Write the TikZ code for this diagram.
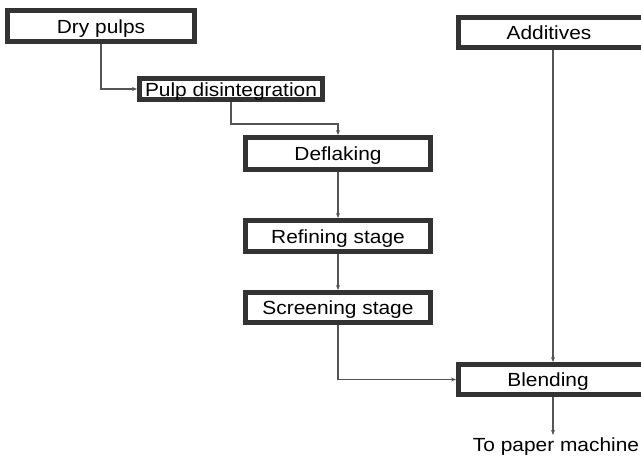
\documentclass[tikz,border=0pt]{standalone}
\usepackage{fontspec}
\setmainfont{Liberation Sans}[FakeStretch=1.1]
\usepackage{xcolor}
\usepackage{tikz}
\usetikzlibrary{arrows.meta,calc}
\definecolor{boxgray}{HTML}{333333}
\definecolor{linegray}{HTML}{555555}

\begin{document}
\begin{tikzpicture}[x=1pt,y=-1pt,
    stagebox/.style={draw=boxgray,line width=5pt,fill=white,inner sep=0pt,
      text height=14pt,text depth=0pt,font=\fontsize{19}{21}\selectfont},
    flow/.style={draw=linegray,line width=1.2pt,-{Stealth[length=5pt,width=4pt]}}]
    \useasboundingbox (0,0) rectangle (641,456);
    \clip (0,0) rectangle (641,456);
    \node[stagebox,minimum width=187pt,minimum height=31pt] (dry) at (101,26) {Dry pulps};
    \node[stagebox,minimum width=183pt,minimum height=21pt] (pulp) at (231,89) {Pulp disintegration};
    \node[stagebox,minimum width=185pt,minimum height=32pt] (defl) at (338,153.5) {Deflaking};
    \node[stagebox,minimum width=185pt,minimum height=31pt] (refin) at (338,236) {Refining stage};
    \node[stagebox,minimum width=185pt,minimum height=30pt] (screen) at (338,307.5) {Screening stage};
    \node[stagebox,minimum width=189pt,minimum height=30pt] (addit) at (553,32.5) {\hspace*{-8pt}Additives};
    \node[stagebox,minimum width=189pt,minimum height=30pt] (blend) at (553,379.5) {\hspace*{-10pt}Blending};
    \node[inner sep=0pt,font=\fontsize{19}{21}\selectfont] (paper) at (556,447) {To paper machine};
    \draw[flow] (dry.south) |- (pulp.west);
    \draw[flow] (pulp.south) |- ([yshift=11pt]defl.north) -- (defl.north);
    \draw[flow] (defl) -- (refin);
    \draw[flow] (refin) -- (screen);
    \draw[flow] (screen.south) |- (blend.west);
    \draw[flow] (addit) -- (blend);
    \draw[flow] (blend.south) -- ([yshift=3pt]blend.south |- paper.north);
\end{tikzpicture}
\end{document}
